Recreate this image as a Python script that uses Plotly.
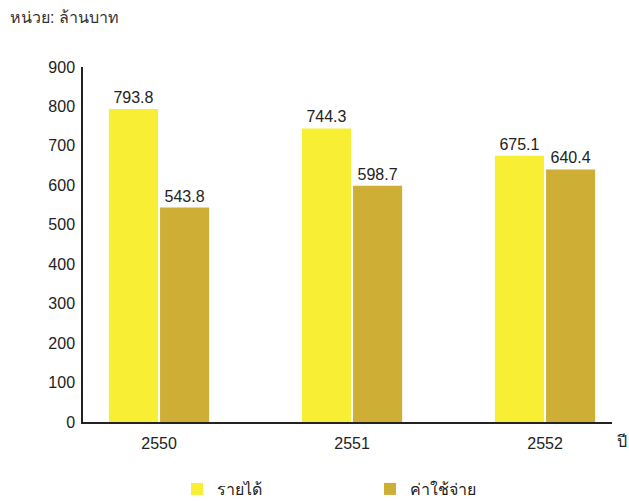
import plotly.graph_objects as go

years = ["2550", "2551", "2552"]
revenue = [793.8, 744.3, 675.1]
expense = [543.8, 598.7, 640.4]
series_names = ["รายได้", "ค่าใช้จ่าย"]
y_ticks = [0, 100, 200, 300, 400, 500, 600, 700, 800, 900]

FONT = "Liberation Sans, Arial, sans-serif"

fig = go.Figure()
fig.add_trace(go.Bar(
    x=years, y=revenue, name=series_names[0],
    marker=dict(color="#F8EE34", line=dict(width=0)),
    text=[f"{v:.1f}" for v in revenue], textposition="outside",
    textfont=dict(size=16, color="#222222", family=FONT), cliponaxis=False,
))
fig.add_trace(go.Bar(
    x=years, y=expense, name=series_names[1],
    marker=dict(color="#CFAE36", line=dict(width=0)),
    text=[f"{v:.1f}" for v in expense], textposition="outside",
    textfont=dict(size=16, color="#222222", family=FONT), cliponaxis=False,
))

fig.update_layout(
    width=629, height=501,
    margin=dict(l=83, r=17, t=67, b=79, autoexpand=False),
    paper_bgcolor="white", plot_bgcolor="white",
    barmode="group", bargap=0.47, bargroupgap=0.04,
    font=dict(family=FONT, size=16, color="#222222"),
    showlegend=True,
    legend=dict(
        orientation="h", xref="container", x=177/629, xanchor="left",
        yref="container", y=(501 - 489) / 501, yanchor="middle",
        entrywidth=148, entrywidthmode="pixels",
        font=dict(size=16, color="#222222", family=FONT),
        itemclick=False, traceorder="normal",
    ),
    xaxis=dict(
        type="category", range=[-0.394, 2.347],
        showline=True, linecolor="#222222", linewidth=1.5,
        ticks="", showgrid=False, zeroline=False,
        tickfont=dict(size=16, color="#222222"), ticklabelstandoff=6,
    ),
    yaxis=dict(
        range=[0, 900], tickvals=y_ticks,
        showline=True, linecolor="#222222", linewidth=1.5,
        ticks="", showgrid=False, zeroline=False,
        tickfont=dict(size=16, color="#222222"), ticklabelstandoff=3,
    ),
    annotations=[
        dict(text="หน่วย: ล้านบาท", xref="paper", yref="paper",
             x=-75/529, y=1 + 49/355, xanchor="left", yanchor="middle",
             showarrow=False, font=dict(size=16, color="#333333")),
        dict(text="ปี", xref="paper", yref="paper",
             x=1 + 3/529, y=-19/355, xanchor="left", yanchor="middle",
             showarrow=False, font=dict(size=16, color="#222222")),
    ],
)

fig.write_html("out.html")
